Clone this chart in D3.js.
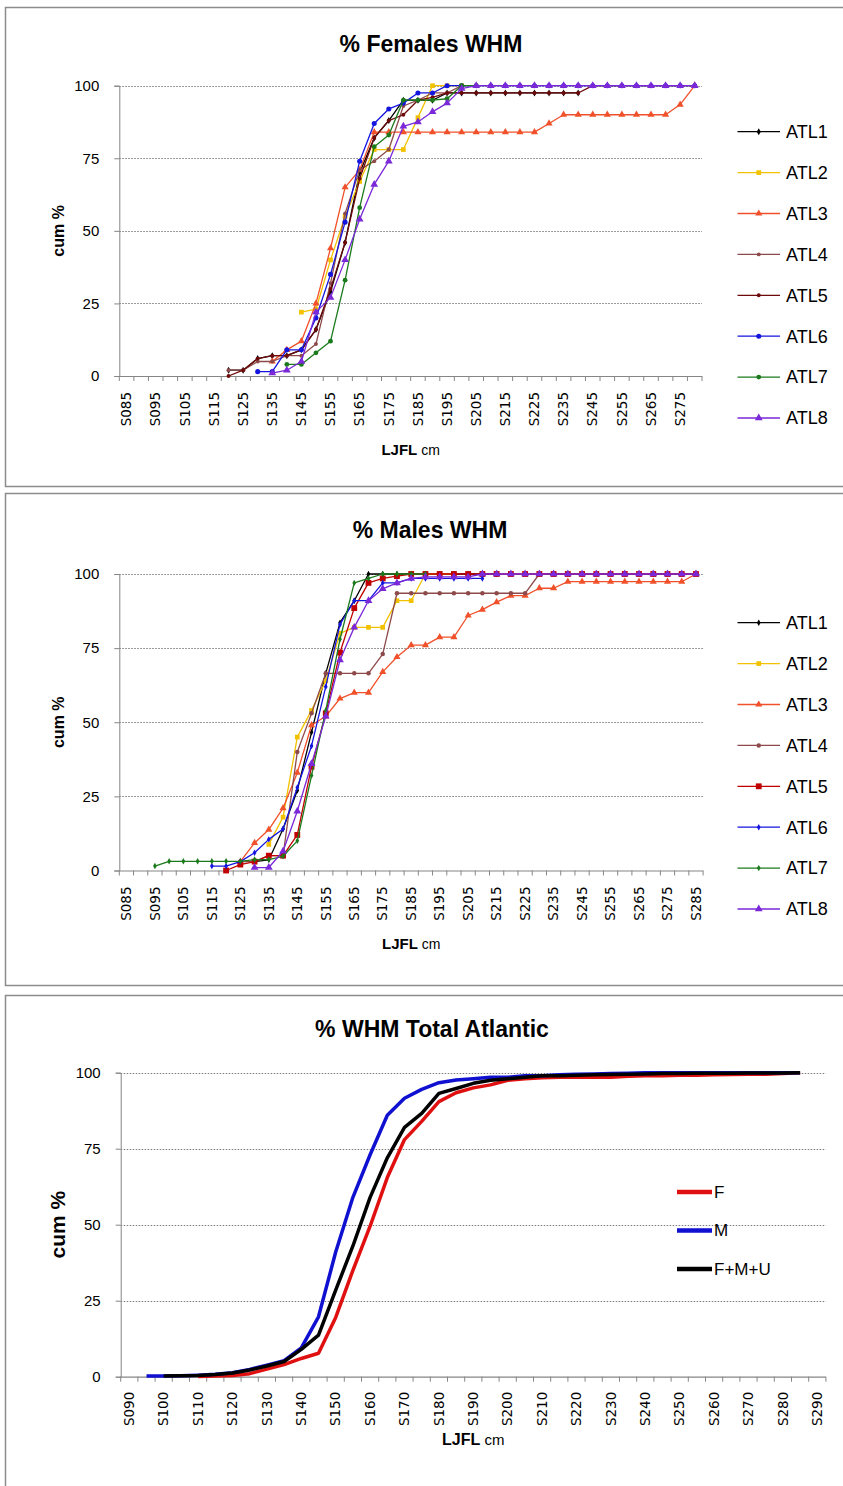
<!DOCTYPE html>
<html>
<head>
<meta charset="utf-8">
<script src="https://cdn.jsdelivr.net/npm/d3@7"></script>
<style>
  html, body { margin: 0; padding: 0; background: #fff; }
  svg { display: block; }
  text { font-family: "Liberation Sans", Arial, sans-serif; fill: #000; }
</style>
</head>
<body>
<svg id="chart" width="843" height="1486"></svg>
<script>
// ---------------- DATA ----------------
const femaleCategories = ["S085","S090","S095","S100","S105","S110","S115","S120","S125","S130","S135","S140","S145","S150","S155","S160","S165","S170","S175","S180","S185","S190","S195","S200","S205","S210","S215","S220","S225","S230","S235","S240","S245","S250","S255","S260","S265","S270","S275","S280"];
const maleCategories = ["S085","S090","S095","S100","S105","S110","S115","S120","S125","S130","S135","S140","S145","S150","S155","S160","S165","S170","S175","S180","S185","S190","S195","S200","S205","S210","S215","S220","S225","S230","S235","S240","S245","S250","S255","S260","S265","S270","S275","S280","S285"];
const totalCategories = ["S090","S095","S100","S105","S110","S115","S120","S125","S130","S135","S140","S145","S150","S155","S160","S165","S170","S175","S180","S185","S190","S195","S200","S205","S210","S215","S220","S225","S230","S235","S240","S245","S250","S255","S260","S265","S270","S275","S280","S285","S290"];

const seriesNames = ["ATL1","ATL2","ATL3","ATL4","ATL5","ATL6","ATL7","ATL8"];
const totalNames = ["F","M","F+M+U"];

// first category of each series (values below follow consecutively)
const femaleStart = ["S120","S145","S135","S120","S120","S130","S140","S135"];
const femATL1 = [2,2,6,7,7,9,16,29,46,70,82,88,95,95,95,97.5,97.5,97.5,97.5,97.5,97.5,97.5,97.5,97.5,97.5];
const femATL2 = [22,23,40,55,67,78,78,78,89,100,100,100];
const femATL3 = [5,9,12,25,44,65,71,84,84,84,84,84,84,84,84,84,84,84,84,87,90,90,90,90,90,90,90,90,93.5,100];
const femATL4 = [2,2,5,5,7,7,11,32,56,71,74,78,93,95,97.5,97.5,100,100];
const femATL5 = [0,2,6,7,7,9,16,30,46,68,82,88,90,95,96,97.5,97.5,97.5,97.5,97.5,97.5,97.5,97.5,97.5,97.5,100,100,100,100,100,100,100,100];
const femATL6 = [1.5,1.5,9,9,20,35,53,74,87,92,94,97.5,97.5,100,100,100,100,100,100,100,100,100,100,100,100,100,100,100,100,100,100];
const femATL7 = [4,4,8,12,33,58,79,83,95,95,95,95.5,100,100];
const femATL8 = [1,2,5,22,27,40,54,66,74,86,87.5,91,94,99,100,100,100,100,100,100,100,100,100,100,100,100,100,100,100,100];

const maleStart = ["S130","S135","S125","S125","S120","S115","S095","S130"];
const malATL1 = [3,3.6,14,27,46.6,66.5,83.6,91,100,100,100,100,100,100,100,100,100,100];
const malATL2 = [8.8,18,45,54,64,80,82,82,82,91,91,100,100,100];
const malATL3 = [3,9.3,13.8,21,33,49,52,58,60,60,67,72,76,76,78.7,78.7,86,88,90.5,92.7,92.7,95.2,95.2,97.4,97.4,97.4,97.4,97.4,97.4,97.4,97.4,97.4,100];
const malATL4 = [3,3,5,5,40,53,66.5,66.5,66.5,66.5,73,93.5,93.5,93.5,93.5,93.5,93.5,93.5,93.5,93.5,93.5,100,100,100,100,100,100,100,100,100,100,100,100];
const malATL5 = [0,2,3,5,5,12,35,53,73.5,88.5,97,98.5,99.3,100,100,100,100,100,100,100,100,100,100,100,100,100,100,100,100,100,100,100,100,100];
const malATL6 = [1.5,1.5,3,6,10.5,14,28,42,62,83,91,91,97,97,98.5,98.5,98.5,98.5,98.5,98.5];
const malATL7 = [1.5,3.1,3.1,3.1,3.1,3.1,3.1,3.7,3.7,4.8,10,32,54,78,97,98.5,100,100,100,100];
const malATL8 = [1,1,6.5,20,36,52,71,82,91,95,97,98.5,99,99,99,99,100,100,100,100,100,100,100,100,100,100,100,100,100,100,100,100];

const totalStart = ["S110","S095","S100"];
const totF   = [0.1,0.2,0.4,1,2.5,4,6,7.7,19.5,35,49.5,65.5,78,84,90.5,93.4,95,96,97.5,98,98.3,98.5,98.5,98.5,98.5,98.8,99,99,99.2,99.2,99.3,99.4,99.5,99.5,99.7,100];
const totM   = [0.2,0.2,0.3,0.5,0.8,1.3,2.4,3.8,5.3,9.5,19.7,41,59,73,86,91.6,94.5,96.7,97.6,98,98.5,98.5,99,99,99.3,99.5,99.6,99.7,99.8,100,100,100,100,100,100,100,100,100,100];
const totFMU = [0.2,0.3,0.4,0.7,1.2,2.2,3.5,5,9,13.7,28.5,43,59,72,82,86.6,93.2,94.8,96.5,97.5,98,98.5,99,99,99.2,99.3,99.4,99.5,99.6,99.7,99.7,99.8,99.8,99.8,99.9,99.9,99.9,100];

const yTicks = [0,25,50,75,100];

// ---------------- STYLES ----------------
const atlColorsF = ["#000000","#F2C200","#F0502A","#8E4A4A","#6E0A0A","#1515E0","#1B7A1B","#7A28D8"];
const atlColorsM = ["#000000","#F2C200","#F0502A","#8E4A4A","#C00000","#1515E0","#1B7A1B","#7A28D8"];
const atlSymbolsF = [d3.symbolDiamond,d3.symbolSquare,d3.symbolTriangle,d3.symbolCircle,d3.symbolCircle,d3.symbolCircle,d3.symbolCircle,d3.symbolTriangle];
const atlSizesF   = [14,22,22,12,12,20,18,26];
const atlSymbolsM = [d3.symbolDiamond,d3.symbolSquare,d3.symbolTriangle,d3.symbolCircle,d3.symbolSquare,d3.symbolDiamond,d3.symbolDiamond,d3.symbolTriangle];
const atlSizesM   = [12,22,22,16,34,12,12,26];
const totColors = ["#E01010","#1010D0","#000000"];

const svg = d3.select("#chart");

function buildSeries(cats, starts, arrays) {
  return arrays.map((vals, k) => {
    const s = cats.indexOf(starts[k]);
    return vals.map((v, j) => ({ cat: cats[s + j], v }));
  });
}

function panelFrame(y0, y1) {
  svg.append("rect").attr("x", 5.5).attr("y", y0 + 0.5).attr("width", 850).attr("height", y1 - y0)
    .attr("fill", "#fff").attr("stroke", "#8c8c8c").attr("stroke-width", 1.5);
}

function drawPanel(cfg) {
  const g = svg.append("g");
  const x = d3.scaleBand().domain(cfg.cats).range([cfg.x0, cfg.x1]).padding(0);
  const y = d3.scaleLinear().domain([0, 100]).range([cfg.yb, cfg.yt]);
  const cx = c => x(c) + x.bandwidth() / 2;

  // gridlines
  g.append("g").selectAll("line").data(yTicks.filter(t => t > 0)).join("line")
    .attr("x1", cfg.x0).attr("x2", cfg.x1)
    .attr("y1", d => Math.round(y(d)) + 0.5).attr("y2", d => Math.round(y(d)) + 0.5)
    .attr("stroke", "#7a7a7a").attr("stroke-width", 1).attr("stroke-dasharray", "1.5,1.5");

  // y axis
  const ya = g.append("g").attr("transform", `translate(${cfg.x0},0)`)
    .call(d3.axisLeft(y).tickValues(yTicks).tickSize(5).tickPadding(15));
  ya.select(".domain").attr("stroke", "#868686");
  ya.selectAll(".tick line").attr("stroke", "#868686");
  ya.selectAll(".tick text").style("font-family", "'Liberation Sans Narrow','Liberation Sans',sans-serif")
    .style("font-size", cfg.yFont + "px").attr("fill", "#000");

  // x axis (labels every other category, ticks at band boundaries)
  const xa = g.append("g").attr("transform", `translate(0,${cfg.yb})`)
    .call(d3.axisBottom(x).tickValues(cfg.cats.filter((c, i) => i % 2 === 0)).tickSize(0).tickPadding(0));
  xa.select(".domain").remove();
  xa.selectAll(".tick text")
    .style("font-family", "'DejaVu Sans',sans-serif").style("font-size", cfg.xFont + "px")
    .attr("fill", "#000")
    .attr("transform", `translate(0,${cfg.xLabOff}) rotate(-90)`)
    .attr("text-anchor", "end").attr("dy", "0.35em").attr("y", 0).attr("x", 0);
  const bounds = cfg.cats.map(c => x(c)).concat([x(cfg.cats[cfg.cats.length - 1]) + x.bandwidth()]);
  g.append("line").attr("x1", cfg.x0).attr("x2", cfg.x1).attr("y1", cfg.yb + 0.5).attr("y2", cfg.yb + 0.5)
    .attr("stroke", "#868686").attr("stroke-width", 1.2);
  g.append("g").selectAll("line").data(bounds).join("line")
    .attr("x1", d => d).attr("x2", d => d).attr("y1", cfg.yb).attr("y2", cfg.yb + 5)
    .attr("stroke", "#868686").attr("stroke-width", 1);

  // series
  const line = d3.line().x(d => cx(d.cat)).y(d => y(d.v));
  cfg.series.forEach((pts, k) => {
    g.append("path").datum(pts).attr("d", line).attr("fill", "none")
      .attr("stroke", cfg.colors[k]).attr("stroke-width", cfg.lineW).attr("stroke-linejoin", "round");
    if (cfg.symbols) {
      g.append("g").selectAll("path").data(pts).join("path")
        .attr("d", d3.symbol().type(cfg.symbols[k]).size(cfg.sizes[k]))
        .attr("transform", d => `translate(${cx(d.cat)},${y(d.v)})`)
        .attr("fill", cfg.colors[k]);
    }
  });

  // titles
  svg.append("text").attr("x", cfg.titleX).attr("y", cfg.titleY).attr("text-anchor", "middle")
    .style("font-size", cfg.titleFont + "px").style("font-weight", "bold").text(cfg.title);
  svg.append("text").attr("transform", `translate(${cfg.yTitleX},${(cfg.yt + cfg.yb) / 2}) rotate(-90)`)
    .attr("text-anchor", "middle").style("font-size", cfg.yTitleFont + "px").style("font-weight", "bold").text("cum %");
  const xt = svg.append("text").attr("x", (cfg.x0 + cfg.x1) / 2).attr("y", cfg.xTitleY).attr("text-anchor", "middle");
  xt.append("tspan").style("font-size", cfg.xTitleFont + "px").style("font-weight", "bold").text("LJFL");
  xt.append("tspan").style("font-size", (cfg.xTitleFont - 1) + "px").text(" cm");

  // legend
  const lg = svg.append("g");
  cfg.names.forEach((n, k) => {
    const ly = cfg.legY + k * cfg.legStep;
    lg.append("line").attr("x1", cfg.legX0).attr("x2", cfg.legX1).attr("y1", ly).attr("y2", ly)
      .attr("stroke", cfg.colors[k]).attr("stroke-width", cfg.legLineW);
    if (cfg.symbols) {
      lg.append("path").attr("d", d3.symbol().type(cfg.symbols[k]).size(cfg.sizes[k]))
        .attr("transform", `translate(${(cfg.legX0 + cfg.legX1) / 2},${ly})`).attr("fill", cfg.colors[k]);
    }
    lg.append("text").attr("x", cfg.legX1 + cfg.legGap).attr("y", ly).attr("dy", "0.35em")
      .style("font-size", cfg.legFont + "px").attr("fill", "#111").text(n);
  });
}

// frames
panelFrame(7, 486);
panelFrame(493, 985);
panelFrame(995, 1492);

drawPanel({
  cats: femaleCategories, x0: 119.3, x1: 702, yt: 85.7, yb: 376,
  series: buildSeries(femaleCategories, femaleStart, [femATL1,femATL2,femATL3,femATL4,femATL5,femATL6,femATL7,femATL8]),
  colors: atlColorsF, symbols: atlSymbolsF, sizes: atlSizesF, lineW: 1.3,
  names: seriesNames, title: "% Females WHM", titleX: 431, titleY: 52, titleFont: 23,
  yTitleX: 64, yTitleFont: 16, xTitleY: 455, xTitleFont: 15, yFont: 15, xFont: 13.5, xLabOff: 16,
  legX0: 737.5, legX1: 780, legGap: 6, legY: 131.7, legStep: 40.9, legFont: 18, legLineW: 1.3
});

drawPanel({
  cats: maleCategories, x0: 119.3, x1: 703.1, yt: 574, yb: 870.5,
  series: buildSeries(maleCategories, maleStart, [malATL1,malATL2,malATL3,malATL4,malATL5,malATL6,malATL7,malATL8]),
  colors: atlColorsM, symbols: atlSymbolsM, sizes: atlSizesM, lineW: 1.3,
  names: seriesNames, title: "% Males WHM", titleX: 430, titleY: 538, titleFont: 23,
  yTitleX: 64, yTitleFont: 16, xTitleY: 949, xTitleFont: 15, yFont: 15, xFont: 13.5, xLabOff: 16,
  legX0: 737.5, legX1: 780, legGap: 6, legY: 622.7, legStep: 40.9, legFont: 18, legLineW: 1.3
});

drawPanel({
  cats: totalCategories, x0: 120.7, x1: 825.9, yt: 1072.7, yb: 1376.7,
  series: buildSeries(totalCategories, totalStart, [totF, totM, totFMU]),
  colors: totColors, symbols: null, lineW: 3.5,
  names: totalNames, title: "% WHM Total Atlantic", titleX: 432, titleY: 1037, titleFont: 23,
  yTitleX: 65, yTitleFont: 21, xTitleY: 1445, xTitleFont: 16, yFont: 15, xFont: 13.5, xLabOff: 15,
  legX0: 677, legX1: 712, legGap: 2, legY: 1192, legStep: 38.5, legFont: 17, legLineW: 4.5
});
</script>
</body>
</html>
